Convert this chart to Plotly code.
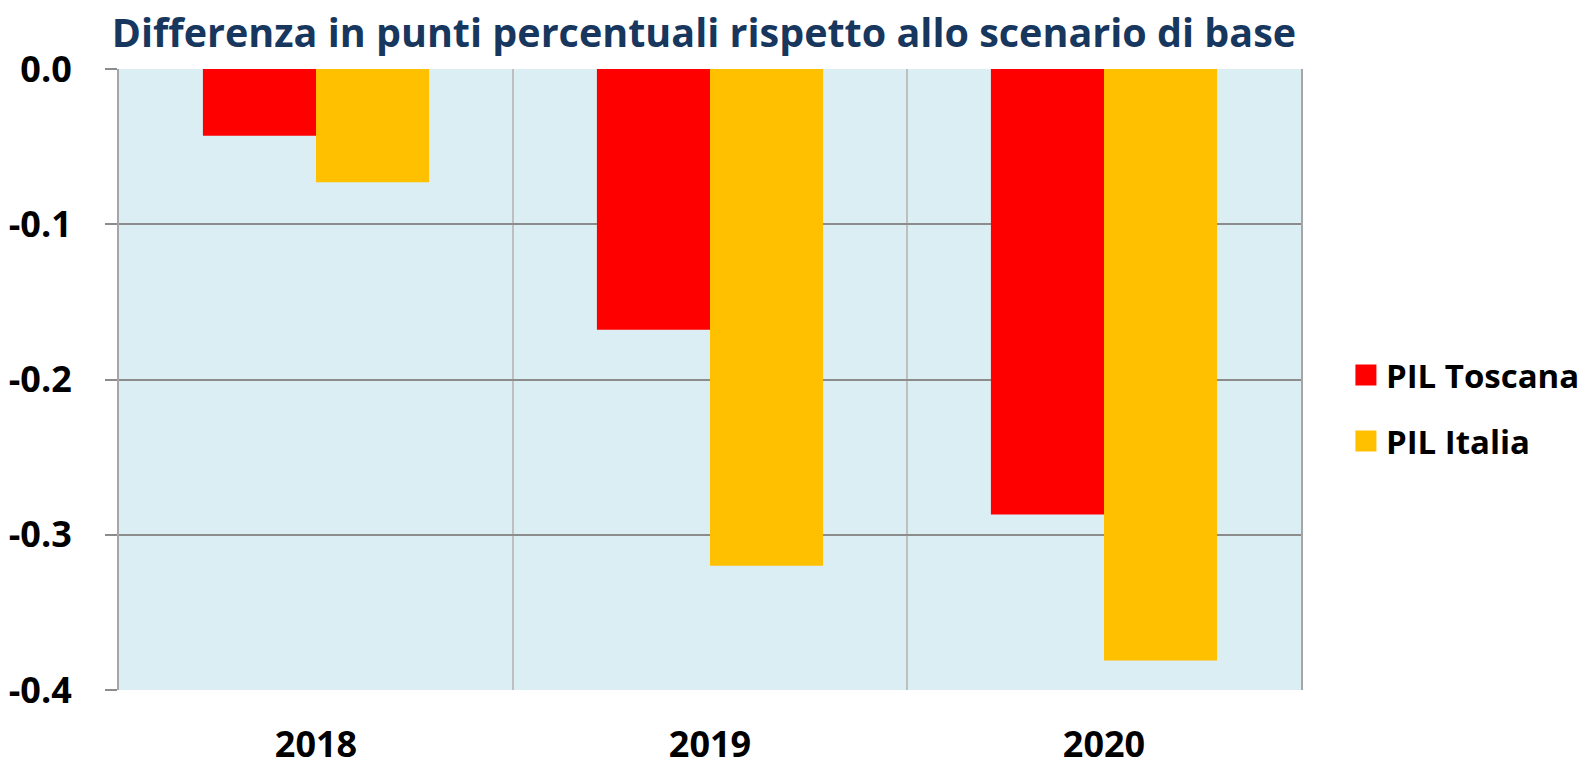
import plotly.graph_objects as go

# values
years = ["2018", "2019", "2020"]
pil_toscana = [-0.043, -0.168, -0.287]
pil_italia = [-0.073, -0.320, -0.381]
y_ticks = [0.0, -0.1, -0.2, -0.3, -0.4]
y_ticktext = ["0.0", "-0.1", "-0.2", "-0.3", "-0.4"]

RED = "#FF0000"
GOLD = "#FFC000"
FONT = "Open Sans"

fig = go.Figure()
fig.add_trace(go.Bar(x=years, y=pil_toscana, name="PIL Toscana",
                     marker=dict(color=RED, line=dict(width=0)), showlegend=False))
fig.add_trace(go.Bar(x=years, y=pil_italia, name="PIL Italia",
                     marker=dict(color=GOLD, line=dict(width=0)), showlegend=False))

# legend entries with bigger squares than the bar icon allows
for name, col in [("PIL Toscana", RED), ("PIL Italia", GOLD)]:
    fig.add_trace(go.Scatter(x=[None], y=[None], mode="markers", name=name,
                             legendgroup=name,
                             marker=dict(symbol="square", size=16, color=col,
                                         line=dict(width=5, color=col))))

# the page body adds 8px on the top/left, so the figure is 8px smaller
fig.update_layout(
    width=1580, height=754,
    paper_bgcolor="white",
    plot_bgcolor="#DAEEF3",
    font=dict(family=FONT, color="black"),
    title=dict(text="<b>Differenza in punti percentuali rispetto allo scenario di base</b>",
               font=dict(size=39.5, color="#17375E", family=FONT),
               x=0.4405, xanchor="center", y=0.967, yanchor="middle", xref="container", yref="container"),
    margin=dict(l=111, r=287, t=61, b=72, autoexpand=False),
    barmode="group",
    bargap=0.426,
    bargroupgap=0,
    legend=dict(x=1.038, xanchor="left", y=0.454, yanchor="middle",
                font=dict(size=33, family=FONT, color="black", weight="bold"),
                tracegroupgap=20, bgcolor="rgba(0,0,0,0)"),
)

fig.update_xaxes(
    type="category",
    automargin=False,
    tickson="boundaries",
    showgrid=True, gridcolor="#BFBFBF", gridwidth=2,
    showline=False,
    ticks="",
    tickfont=dict(size=36, family=FONT, color="black", weight="bold"),
    ticklabelstandoff=30,
)
fig.update_yaxes(
    automargin=False,
    range=[-0.4, 0],
    tickvals=y_ticks, ticktext=y_ticktext,
    tickfont=dict(size=36, family=FONT, color="black", weight="bold"),
    showgrid=True, gridcolor="#8C8C8C", gridwidth=2,
    zeroline=False,
    showline=True, mirror=True, linecolor="#A6A6A6", linewidth=2,
    ticks="outside", ticklen=12, tickcolor="#8C8C8C", tickwidth=2,
    ticklabelstandoff=26,
)

fig.write_html("out.html")
